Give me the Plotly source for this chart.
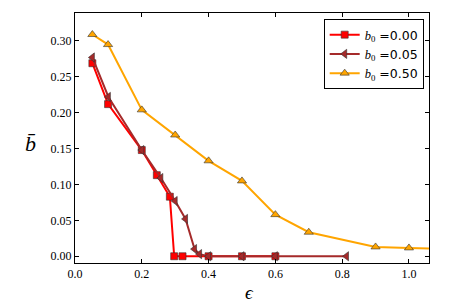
import plotly.graph_objects as go

# b0 = 0.00
eps_000 = [0.052, 0.099, 0.2, 0.245, 0.284, 0.297, 0.322, 0.4, 0.5, 0.6]
b_000 = [0.269, 0.212, 0.148, 0.113, 0.083, 0.0, 0.0, 0.0, 0.0, 0.0]

# b0 = 0.05
eps_005 = [0.052, 0.1, 0.2, 0.257, 0.3, 0.331, 0.358, 0.373, 0.4, 0.5, 0.6, 0.813]
b_005 = [0.277, 0.222, 0.148, 0.109, 0.077, 0.052, 0.010, 0.003, 0.0, 0.0, 0.0, 0.0]

# b0 = 0.50
eps_050 = [0.052, 0.099, 0.2, 0.3, 0.4, 0.5, 0.6, 0.7, 0.9, 1.0, 1.1]
b_050 = [0.309, 0.295, 0.204, 0.169, 0.133, 0.105, 0.058, 0.0335, 0.013, 0.0116, 0.0105]

x_ticks = [0.0, 0.2, 0.4, 0.6, 0.8, 1.0]
x_tick_labels = ["0.0", "0.2", "0.4", "0.6", "0.8", "1.0"]
y_ticks = [0.0, 0.05, 0.10, 0.15, 0.20, 0.25, 0.30]
y_tick_labels = ["0.00", "0.05", "0.10", "0.15", "0.20", "0.25", "0.30"]

serif = "Liberation Serif, DejaVu Serif, serif"
sans = "DejaVu Sans, Liberation Sans, sans-serif"

def lab(v):
    return ('<span style="font-family:Liberation Serif"><i>b</i><sub>0</sub></span> =' + v)

fig = go.Figure()
fig.add_trace(go.Scatter(
    x=eps_000, y=b_000, mode="lines+markers", name=lab("0.00"), legendgroup="a",
    line=dict(color="#ff0000", width=2),
    marker=dict(symbol="square", size=7, color="#ff0000", line=dict(color="#333333", width=0.6)),
))
fig.add_trace(go.Scatter(
    x=eps_005, y=b_005, mode="lines+markers", name=lab("0.05"), legendgroup="b",
    line=dict(color="#a52a2a", width=2),
    marker=dict(symbol="triangle-left", size=8, color="#a52a2a", line=dict(color="#333333", width=0.6)),
))
fig.add_trace(go.Scatter(
    x=eps_050, y=b_050, mode="lines+markers", name=lab("0.50"), legendgroup="c",
    line=dict(color="#ffa500", width=2),
    marker=dict(symbol="triangle-up", size=8, color="#ffa500", line=dict(color="#333333", width=0.6)),
))

axis_common = dict(
    showgrid=False, zeroline=False, showline=True, linecolor="black", linewidth=1,
    mirror="ticks", ticks="inside", ticklen=4, tickcolor="black", tickwidth=1,
    tickfont=dict(family=serif, size=12, color="black"),
)

fig.update_layout(
    width=449, height=300,
    margin=dict(l=67, r=28, t=5, b=45),
    paper_bgcolor="white", plot_bgcolor="white",
    xaxis=dict(range=[0, 1.06], tickvals=x_ticks, ticktext=x_tick_labels, **axis_common),
    yaxis=dict(range=[-0.0094, 0.339], tickvals=y_ticks, ticktext=y_tick_labels, **axis_common),
    showlegend=True,
    legend=dict(
        x=0.985, y=0.976, xanchor="right", yanchor="top",
        bgcolor="white", bordercolor="black", borderwidth=1,
        font=dict(family=sans, size=12.5, color="black"),
        tracegroupgap=0, itemwidth=30,
    ),
    annotations=[
        dict(text="<i>b̄</i>", xref="paper", yref="paper", x=-0.127, y=0.48,
             xanchor="center", yanchor="middle",
             showarrow=False, font=dict(family=serif, size=22, color="black")),
        dict(text="<i>ϵ</i>", xref="paper", yref="paper", x=0.494, y=-0.116,
             xanchor="center", yanchor="middle",
             showarrow=False, font=dict(family=serif, size=19, color="black")),
    ],
)

fig.write_html("out.html")
